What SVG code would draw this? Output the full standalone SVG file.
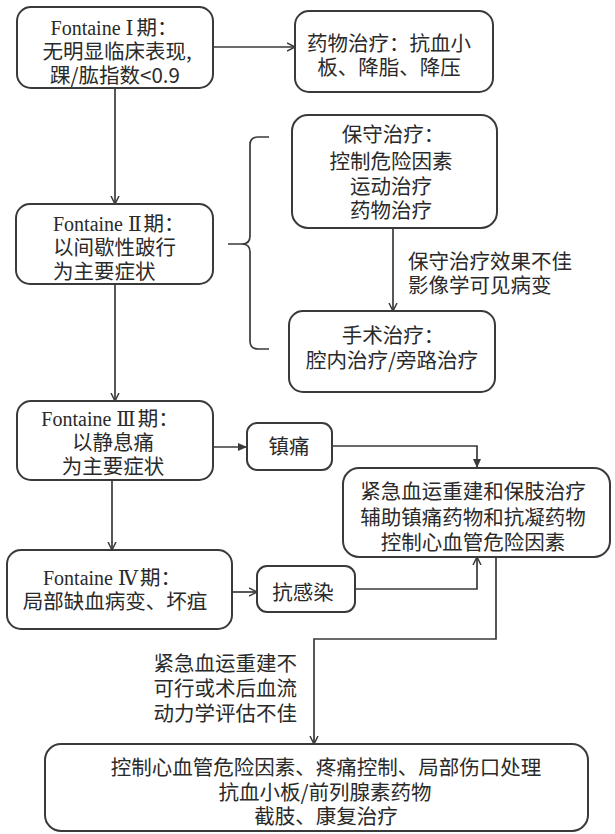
<svg xmlns="http://www.w3.org/2000/svg" width="615" height="834" viewBox="0 0 615 834">
<style>
.box{fill:#fff;stroke:#3a3a3a;stroke-width:2}
.t{font-family:"Noto Sans CJK SC","Noto Sans",sans-serif;font-size:20.5px;fill:#2a2a2a}
.m{text-anchor:middle}
.e{text-anchor:end}
.f{font-family:"Liberation Serif","DejaVu Serif","Noto Sans CJK SC",serif;font-size:20px}
.ln{fill:none;stroke:#3a3a3a;stroke-width:1.7}
</style>
<defs>
<marker id="open" markerWidth="10" markerHeight="10" refX="8" refY="4" orient="auto" markerUnits="userSpaceOnUse" viewBox="0 0 10 8">
<path d="M0,0 L8,4 L0,8" fill="none" stroke="#3a3a3a" stroke-width="1.5"/>
</marker>
<marker id="fill" markerWidth="10" markerHeight="10" refX="9" refY="4" orient="auto" markerUnits="userSpaceOnUse" viewBox="0 0 10 8">
<path d="M0,0 L9,4 L0,8 z" fill="#3a3a3a"/>
</marker>
</defs>

<g id="connectors">
<path class="ln" d="M213,47 H295" marker-end="url(#open)"/>
<path class="ln" d="M115,88 V204" marker-end="url(#open)"/>
<path class="ln" d="M269,137 H258 Q250,137 250,145 V236 Q250,244 242,244 H228 M242,244 Q250,244 250,252 V341 Q250,349 258,349 H269"/>
<path class="ln" d="M393,228 V311" marker-end="url(#open)"/>
<path class="ln" d="M115,284 V401" marker-end="url(#open)"/>
<path class="ln" d="M213,447 H247" stroke-width="2.2" marker-end="url(#fill)"/>
<path class="ln" d="M332,446 H477 V468" marker-end="url(#fill)"/>
<path class="ln" d="M112,480 V550" marker-end="url(#open)"/>
<path class="ln" d="M232,592 H257" marker-end="url(#open)"/>
<path class="ln" d="M355,589 H477 V557" marker-end="url(#open)"/>
<path class="ln" d="M496,557 V639 H314 V744" marker-end="url(#open)"/>
</g>

<g id="label-conservative-fail">
<text class="t" x="408" y="269">保守治疗效果不佳</text>
<text class="t" x="408" y="293">影像学可见病变</text>
</g>
<g id="label-revasc-fail">
<text class="t e" x="297" y="671">紧急血运重建不</text>
<text class="t e" x="297" y="696">可行或术后血流</text>
<text class="t e" x="297" y="721">动力学评估不佳</text>
</g>

<g id="stage1">
<rect class="box" x="17" y="7" width="196" height="81" rx="14"/>
<text class="t m" x="114" y="35"><tspan class="f">Fontaine  Ⅰ</tspan><tspan dx="3">期：</tspan></text>
<text class="t m" x="117" y="59">无明显临床表现,</text>
<text class="t m" x="115" y="83">踝/肱指数&lt;0.9</text>
</g>

<g id="drug1">
<rect class="box" x="295" y="11" width="198" height="81" rx="14"/>
<text class="t m" x="389" y="51">药物治疗：抗血小</text>
<text class="t m" x="389" y="75">板、降脂、降压</text>
</g>

<g id="conservative">
<rect class="box" x="292" y="115" width="205" height="113" rx="16"/>
<text class="t m" x="393" y="142">保守治疗：</text>
<text class="t m" x="391" y="169">控制危险因素</text>
<text class="t m" x="391" y="194">运动治疗</text>
<text class="t m" x="391" y="218">药物治疗</text>
</g>

<g id="stage2">
<rect class="box" x="16" y="204" width="197" height="80" rx="14"/>
<text class="t" x="53" y="231"><tspan class="f">Fontaine Ⅱ</tspan><tspan dx="2">期：</tspan></text>
<text class="t" x="53" y="255">以间歇性跛行</text>
<text class="t" x="53" y="279">为主要症状</text>
</g>

<g id="surgery">
<rect class="box" x="289" y="311" width="206" height="81" rx="14"/>
<text class="t m" x="393" y="343">手术治疗：</text>
<text class="t m" x="392" y="368">腔内治疗/旁路治疗</text>
</g>

<g id="stage3">
<rect class="box" x="17" y="401" width="196" height="79" rx="14"/>
<text class="t m" x="110" y="426"><tspan class="f">Fontaine Ⅲ</tspan><tspan dx="2">期：</tspan></text>
<text class="t m" x="113" y="450">以静息痛</text>
<text class="t m" x="113" y="474">为主要症状</text>
</g>

<g id="analgesia">
<rect class="box" x="247" y="423" width="85" height="47" rx="10"/>
<text class="t m" x="289" y="454">镇痛</text>
</g>

<g id="emergency">
<rect class="box" x="343" y="468" width="267" height="89" rx="16"/>
<text class="t m" x="473" y="499">紧急血运重建和保肢治疗</text>
<text class="t m" x="473" y="525">辅助镇痛药物和抗凝药物</text>
<text class="t m" x="473" y="550">控制心血管危险因素</text>
</g>

<g id="stage4">
<rect class="box" x="7" y="550" width="225" height="79" rx="14"/>
<text class="t m" x="112" y="585"><tspan class="f">Fontaine Ⅳ</tspan><tspan dx="2">期：</tspan></text>
<text class="t m" x="115" y="609">局部缺血病变、坏疽</text>
</g>

<g id="anti-infection">
<rect class="box" x="257" y="566" width="98" height="46" rx="10"/>
<text class="t m" x="303" y="600">抗感染</text>
</g>

<g id="final">
<rect class="box" x="45" y="744" width="543" height="87" rx="16"/>
<text class="t m" x="326" y="775">控制心血管危险因素、疼痛控制、局部伤口处理</text>
<text class="t m" x="325" y="800">抗血小板/前列腺素药物</text>
<text class="t m" x="326" y="824">截肢、康复治疗</text>
</g>
</svg>
